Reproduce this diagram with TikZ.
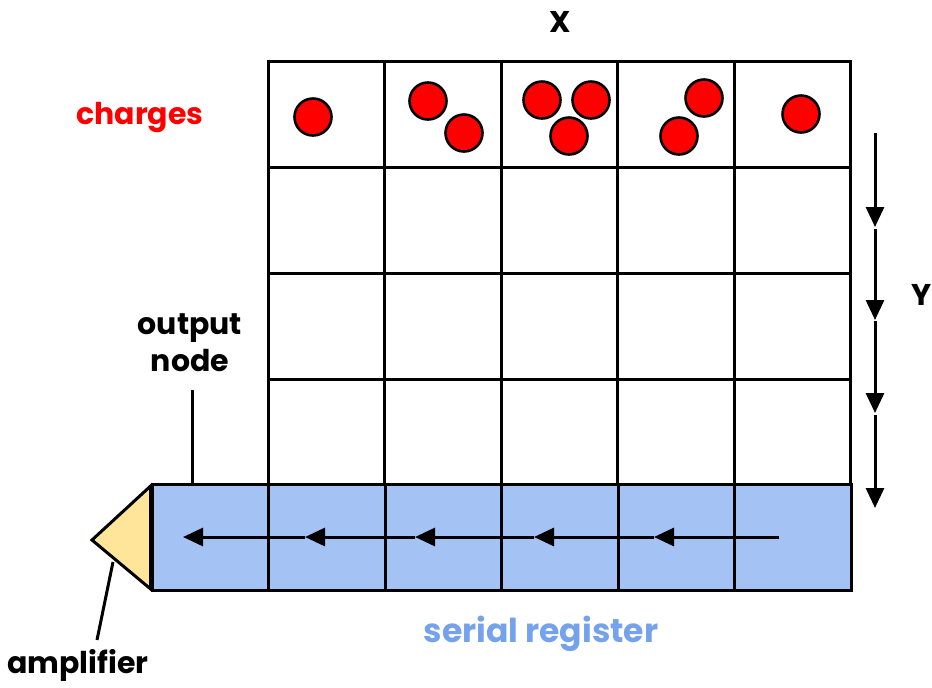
\documentclass[tikz,border=0pt]{standalone}
\usepackage{fontspec}
\setmainfont{Poppins}
\usetikzlibrary{arrows.meta}
\definecolor{regblue}{HTML}{A4C2F4}
\definecolor{labelblue}{HTML}{74A2EC}
\definecolor{ampyellow}{HTML}{FFE599}
\definecolor{chargered}{HTML}{FF0000}

\begin{document}
\begin{tikzpicture}[x=0.5pt,y=-0.5pt,
  cell/.style={draw,line width=1.5pt,minimum width=58.25pt,minimum height=52.9pt,inner sep=0pt},
  reg/.style={cell,fill=regblue},
  charge/.style={circle,draw,fill=chargered,line width=1.3pt,minimum size=18.5pt,inner sep=0pt},
  lbl/.style={font=\bfseries\fontsize{15}{18.5}\selectfont,inner sep=0pt},
  move/.style={line width=1.5pt,-{Triangle[length=10pt,width=9pt]}}]
\useasboundingbox (0,0) rectangle (932,687);

% pixel array
\foreach \c in {1,...,5}
  \foreach \r in {1,...,4}
    \node[cell] (p\r\c) at ({268+116.5*(\c-0.5)},{62+105.75*(\r-0.5)}) {};

% serial register
\foreach \c in {0,...,5}
  \node[reg] (s\c) at ({152+116.5*(\c+0.5)},537.5) {};

% amplifier
\coordinate (tip) at (92,540);
\draw[fill=ampyellow,line width=1.5pt] ([yshift=-1.5pt]s0.north west) -- (tip) -- ([yshift=1.5pt]s0.south west) -- cycle;

% charges
\node[charge] (q1) at (313,117) {};
\node[charge] (q2) at (428,101) {};
\node[charge] (q3) at (464,133) {};
\node[charge] (q4) at (542,100) {};
\node[charge] (q5) at (591,100) {};
\node[charge] (q6) at (569,136) {};
\node[charge] (q7) at (704,98) {};
\node[charge] (q8) at (679,136) {};
\node[charge] (q9) at (801,114) {};

% labels
\node[lbl] (xlab) at (560,22) {X};
\node[lbl] (ylab) at (922,295) {Y};
\node[lbl,text=chargered] (chg) at (140,118) {charges};
\node[lbl,align=center] (out) at (190,343) {output\\node};
\node[lbl] (amp) at (78,665) {amplifier};
\node[lbl,text=labelblue,font=\bfseries\fontsize{16.5}{20}\selectfont] (ser) at (541,634) {serial register};

% pointers
\draw[line width=1.5pt] ([yshift=-9pt]out.south -| 192,0) -- (s0.north -| 192,0);
\coordinate (ampfoot) at (97,640);
\coordinate (amphead) at (113,562);
\draw[line width=1.5pt] (ampfoot) -- (amphead);

% transfer arrows
\foreach \a/\b in {133/227,229/320,321/413,415/508}
  \draw[move] (875,\a) -- (875,\b);
\foreach \a/\b in {779/654,654/534,534/415,415/305,305/183}
  \draw[move] (\a,537) -- (\b,537);
\end{tikzpicture}
\end{document}
